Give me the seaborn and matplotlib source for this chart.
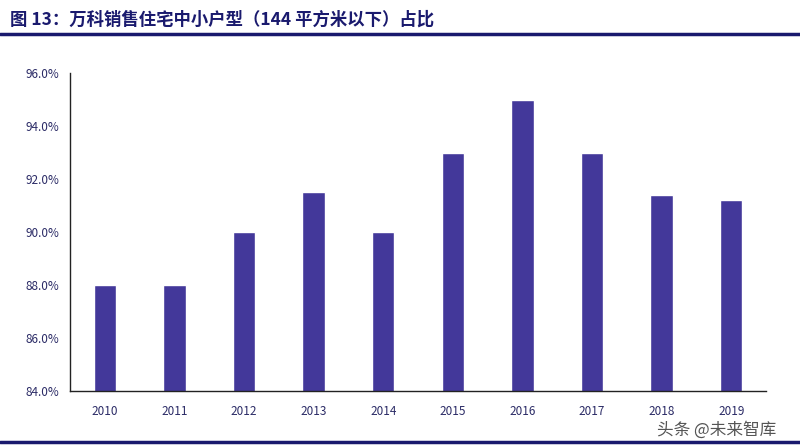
import matplotlib
matplotlib.use('Agg')
import matplotlib.pyplot as plt
import seaborn as sns
import pandas as pd
from matplotlib.ticker import FuncFormatter, MultipleLocator
from matplotlib.lines import Line2D

# ── Données ──────────────────────────────────────────────────────────
years = ['2010', '2011', '2012', '2013', '2014', '2015', '2016', '2017', '2018', '2019']
share = [88.0, 88.0, 90.0, 91.5, 90.0, 93.0, 95.0, 93.0, 91.4, 91.2]

title = '图 13：万科销售住宅中小户型（144 平方米以下）占比'
watermark = '头条 @未来智库'

df = pd.DataFrame({'year': years, 'share': share})

sns.set_style('white')
plt.rcParams['font.family'] = ['Noto Sans CJK SC', 'DejaVu Sans']

navy = '#1a1a6e'
bar_color = '#43389a'
label_color = '#2b2b66'

fig = plt.figure(figsize=(8, 4.47), dpi=100)
ax = fig.add_axes([0.0875, 0.125, 0.87, 0.7114])

sns.barplot(data=df, x='year', y='share', color=bar_color, saturation=1,
            width=0.32, ax=ax)

ax.set_xlim(-0.5, len(years) - 0.5)
ax.set_ylim(84, 96)
ax.yaxis.set_major_locator(MultipleLocator(2))
ax.yaxis.set_major_formatter(FuncFormatter(lambda v, _: f'{v:.1f}%'))
ax.set_xlabel('')
ax.set_ylabel('')

for s in ['top', 'right']:
    ax.spines[s].set_visible(False)
for s in ['left', 'bottom']:
    ax.spines[s].set_color('#222222')
    ax.spines[s].set_linewidth(1.0)

# ticks y vers l'intérieur, ticks x entre les catégories
ax.tick_params(axis='y', direction='in', length=3, width=0.8, colors='#222222',
               labelcolor=label_color, labelsize=8.5, pad=8)
ax.tick_params(axis='x', which='major', length=0, labelcolor=label_color,
               labelsize=8.5, pad=10)
ax.set_xticks([i + 0.5 for i in range(len(years) - 1)], minor=True)
ax.tick_params(axis='x', which='minor', direction='out', length=3, width=0.8,
               colors='#222222')

# Titre et filets
fig.text(0.012, 0.957, title, fontsize=12.5, fontweight='bold', color=navy,
         ha='left', va='center')
fig.add_artist(Line2D([0, 1], [0.925, 0.925], color=navy, linewidth=2.5,
                      transform=fig.transFigure))
fig.add_artist(Line2D([0, 1], [0.012, 0.012], color=navy, linewidth=2.5,
                      transform=fig.transFigure))
fig.text(0.97, 0.038, watermark, fontsize=12, color='#555555',
         ha='right', va='center')

plt.savefig('out.png', dpi=100)
